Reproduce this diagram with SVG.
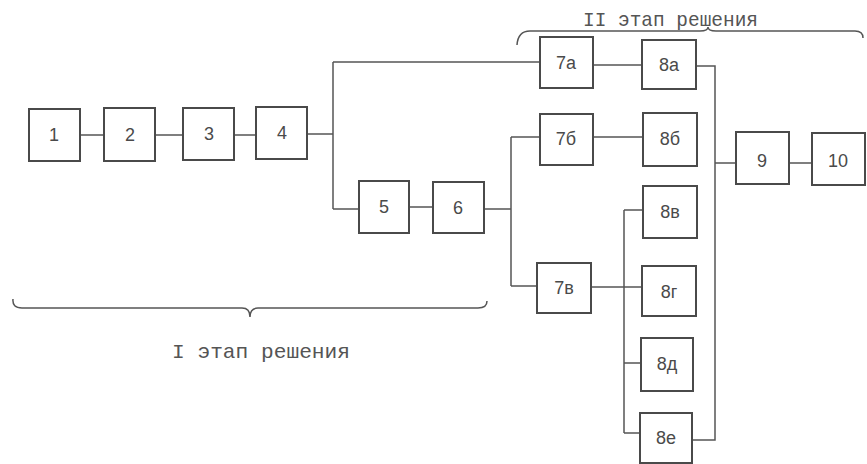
<svg xmlns="http://www.w3.org/2000/svg" width="867" height="464" viewBox="0 0 867 464">
<style>
.b{fill:none;stroke:#4a4a4a;stroke-width:2}
.l{fill:#4a4a4a;font-family:"Liberation Sans",Arial,sans-serif;font-size:18px;text-anchor:middle;dominant-baseline:central}
.c{fill:none;stroke:#555;stroke-width:1.5}
.t{fill:#555;font-family:"Liberation Mono","Courier New",monospace;font-size:21px}
</style>
<rect width="867" height="464" fill="#fff"/>
<g id="connectors" class="c">
<path d="M80 135H104M155 135H183M234 135H256M307 134H333M333 62V209M333 62H540M333 209H359M409 207H433M484 209H511M511 137V286M511 137H540M511 286H537M593 65H642M593 137H643M591 287H642M624 210V433M624 210H643M624 363H641M624 433H640M696 66H715V440H692M715 163H736M789 163H812"/>
</g>
<g id="n1"><rect class="b" x="29" y="109" width="51" height="52"/><text class="l" x="54" y="135">1</text></g>
<g id="n2"><rect class="b" x="104" y="108" width="51" height="53"/><text class="l" x="130" y="135">2</text></g>
<g id="n3"><rect class="b" x="183" y="108" width="51" height="52"/><text class="l" x="209" y="134">3</text></g>
<g id="n4"><rect class="b" x="256" y="107" width="51" height="52"/><text class="l" x="282" y="133">4</text></g>
<g id="n5"><rect class="b" x="359" y="181" width="50" height="52"/><text class="l" x="384" y="207">5</text></g>
<g id="n6"><rect class="b" x="433" y="182" width="51" height="51"/><text class="l" x="458" y="208">6</text></g>
<g id="n7a"><rect class="b" x="540" y="37" width="53" height="51"/><text class="l" x="566" y="63">7а</text></g>
<g id="n8a"><rect class="b" x="642" y="40" width="54" height="49"/><text class="l" x="669" y="65">8а</text></g>
<g id="n7b"><rect class="b" x="540" y="114" width="53" height="51"/><text class="l" x="566" y="139">7б</text></g>
<g id="n8b"><rect class="b" x="643" y="113" width="54" height="53"/><text class="l" x="670" y="139">8б</text></g>
<g id="n7v"><rect class="b" x="537" y="263" width="54" height="50"/><text class="l" x="564" y="288">7в</text></g>
<g id="n8v"><rect class="b" x="643" y="186" width="54" height="52"/><text class="l" x="670" y="212">8в</text></g>
<g id="n8g"><rect class="b" x="642" y="266" width="54" height="50"/><text class="l" x="669" y="292">8г</text></g>
<g id="n8d"><rect class="b" x="641" y="338" width="52" height="53"/><text class="l" x="667" y="364">8д</text></g>
<g id="n8e"><rect class="b" x="640" y="413" width="52" height="50"/><text class="l" x="666" y="438">8е</text></g>
<g id="n9"><rect class="b" x="736" y="132" width="53" height="52"/><text class="l" x="762" y="161">9</text></g>
<g id="n10"><rect class="b" x="812" y="133" width="53" height="52"/><text class="l" x="838" y="161">10</text></g>
<g id="braces" class="c">
<path d="M13 299Q12 308 22 308H242Q250 308 250 317Q250 308 258 308H478Q487 308 487 301"/>
<path d="M517 45Q518 31 530 31H700Q708 31 708 27Q708 31 716 31H855Q863 31 863 38"/>
</g>
<text class="t" x="583" y="26" textLength="175" lengthAdjust="spacingAndGlyphs">II этап решения</text>
<text class="t" x="172" y="358" textLength="178" lengthAdjust="spacingAndGlyphs">I этап решения</text>
</svg>
